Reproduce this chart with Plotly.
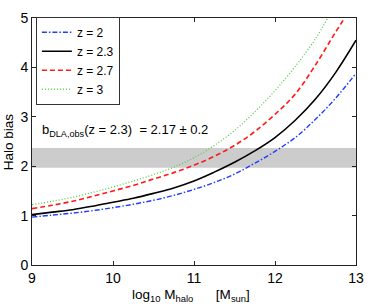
import plotly.graph_objects as go

# ---- data ----
x_z2 = [9.00, 9.25, 9.50, 9.75, 10.00, 10.25, 10.50, 10.75, 11.00, 11.25, 11.50, 11.75, 12.00, 12.25, 12.50, 12.75, 13.00]
b_z2 = [0.97, 1.01, 1.05, 1.10, 1.16, 1.23, 1.31, 1.41, 1.53, 1.67, 1.84, 2.06, 2.30, 2.58, 2.95, 3.38, 3.88]

x_z23 = [9.00, 9.25, 9.50, 9.75, 10.00, 10.25, 10.50, 10.75, 11.00, 11.25, 11.50, 11.75, 12.00, 12.25, 12.50, 12.75, 13.00]
b_z23 = [1.02, 1.07, 1.12, 1.19, 1.27, 1.35, 1.45, 1.56, 1.70, 1.88, 2.08, 2.31, 2.58, 2.93, 3.36, 3.90, 4.55]

x_z27 = [9.00, 9.25, 9.50, 9.75, 10.00, 10.25, 10.50, 10.75, 11.00, 11.25, 11.50, 11.75, 12.00, 12.25, 12.50, 12.75, 12.86]
b_z27 = [1.14, 1.21, 1.29, 1.39, 1.50, 1.61, 1.74, 1.87, 2.02, 2.20, 2.42, 2.70, 3.05, 3.46, 4.05, 4.72, 5.00]

x_z3 = [9.00, 9.25, 9.50, 9.75, 10.00, 10.25, 10.50, 10.75, 11.00, 11.25, 11.50, 11.75, 12.00, 12.25, 12.50, 12.65]
b_z3 = [1.22, 1.29, 1.37, 1.47, 1.58, 1.70, 1.83, 1.98, 2.17, 2.42, 2.72, 3.10, 3.53, 4.02, 4.58, 5.00]

B_OBS = 2.17
B_ERR = 0.2

x_ticks = [9, 10, 11, 12, 13]
y_ticks = [0, 1, 2, 3, 4, 5]

FONT = "Liberation Sans, Arial, Helvetica, sans-serif"
NB = "\u00a0"

fig = go.Figure()
fig.add_trace(go.Scatter(x=x_z2, y=b_z2, mode="lines", name="z = 2",
                         line=dict(color="#1f3cff", width=1.4, dash="5px,2px,1.5px,2px", shape="spline")))
fig.add_trace(go.Scatter(x=x_z23, y=b_z23, mode="lines", name="z = 2.3",
                         line=dict(color="black", width=1.6, dash="solid", shape="spline")))
fig.add_trace(go.Scatter(x=x_z27, y=b_z27, mode="lines", name="z = 2.7",
                         line=dict(color="#ff1a1a", width=1.6, dash="5px,3px", shape="spline")))
fig.add_trace(go.Scatter(x=x_z3, y=b_z3, mode="lines", name="z = 3",
                         line=dict(color="#55cc44", width=1.3, dash="1px,2px", shape="spline")))

fig.add_shape(type="rect", xref="paper", x0=0, x1=1, yref="y",
              y0=B_OBS - B_ERR, y1=B_OBS + B_ERR,
              fillcolor="#cccccc", line=dict(width=0), layer="below")

fig.add_annotation(x=9.1, y=2.72, xref="x", yref="y", xanchor="left", yanchor="middle",
                   text="b<sub>DLA,obs</sub>(z = 2.3)" + NB * 2 + "= 2.17 ± 0.2",
                   showarrow=False, font=dict(family=FONT, size=13, color="black"))

fig.add_annotation(x=0.49, y=-0.08, xref="paper", yref="paper", xanchor="center", yanchor="top",
                   text="log<sub>10</sub> M<sub>halo</sub>" + NB * 6 + "[M<sub>sun</sub>]",
                   showarrow=False, font=dict(family=FONT, size=13.5, color="black"))

fig.add_annotation(x=-0.072, y=0.5, xref="paper", yref="paper", xanchor="center", yanchor="middle",
                   text="Halo bias", textangle=-90,
                   showarrow=False, font=dict(family=FONT, size=13.5, color="black"))

axis_common = dict(showgrid=False, zeroline=False, showline=True, linecolor="#222222",
                   linewidth=1, mirror="ticks", ticks="inside", ticklen=4,
                   tickcolor="#222222", tickfont=dict(family=FONT, size=14, color="black"))

fig.update_layout(
    width=374, height=307,
    margin=dict(l=32, r=11, t=10, b=42),
    paper_bgcolor="white", plot_bgcolor="white",
    xaxis=dict(range=[9, 13], tickvals=x_ticks, ticktext=[str(v) for v in x_ticks], **axis_common),
    yaxis=dict(range=[0, 5], tickvals=y_ticks, ticktext=[str(v) for v in y_ticks], **axis_common),
    legend=dict(x=0.012, y=1.005, xanchor="left", yanchor="top",
                bgcolor="white", bordercolor="#333333", borderwidth=1,
                font=dict(family=FONT, size=12, color="black"),
                tracegroupgap=0, itemwidth=30),
    font=dict(family=FONT),
    showlegend=True,
)

fig.write_html("out.html", config={"displayModeBar": False},
               post_script="document.body.style.margin='0';document.body.style.padding='0';")
